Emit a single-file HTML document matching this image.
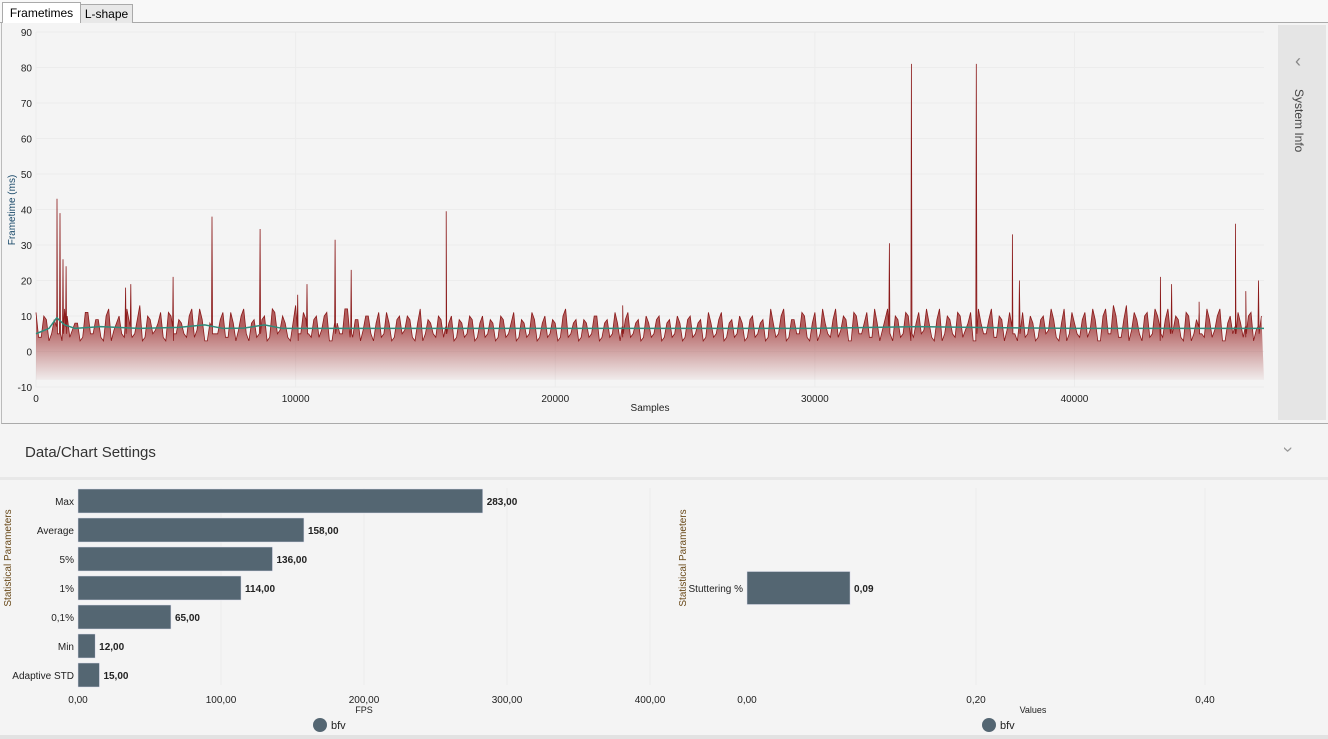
<!DOCTYPE html>
<html><head><meta charset="utf-8">
<style>
body{margin:0;width:1328px;height:739px;overflow:hidden;background:#f4f4f4;font-family:"Liberation Sans",sans-serif;position:relative}
.abs{position:absolute}
</style></head><body>
<div class="abs" style="left:0;top:0;width:1328px;height:22px;background:#f8f8f8;border-bottom:1px solid #aaa"></div>
<div class="abs" style="left:2px;top:2px;width:77px;height:21px;background:#fff;border:1px solid #aaa;border-bottom:none;font-size:12px;line-height:20px;text-align:center">Frametimes</div>
<div class="abs" style="left:80px;top:4px;width:51px;height:18px;background:#e8e8e8;border:1px solid #aaa;border-bottom:none;font-size:12px;line-height:18px;text-align:center">L-shape</div>
<div class="abs" style="left:1px;top:23px;width:1326px;height:400px;border-left:1px solid #bbb;border-right:1px solid #bbb;border-bottom:1px solid #aaa;background:#f4f4f4"></div>
<div class="abs" style="left:1278px;top:25px;width:48px;height:395px;background:#e5e5e5">
 <div style="position:absolute;left:17px;top:26px;color:#888;font-size:18px">&#8249;</div>
 <div style="position:absolute;left:28px;top:64px;transform-origin:0 0;transform:rotate(90deg);font-size:12px;color:#444;white-space:nowrap">System Info</div>
</div>
<svg class="abs" style="left:0;top:0" width="1278" height="424" id="ft">
<defs><linearGradient id="g" gradientUnits="userSpaceOnUse" x1="0" y1="326" x2="0" y2="382"><stop offset="0" stop-color="#a23a3a" stop-opacity="0.8"/><stop offset="1" stop-color="#a84848" stop-opacity="0.02"/></linearGradient></defs>
</svg>
<div class="abs" style="left:0;top:425px;width:1328px;height:52px;background:#f4f4f4;border-bottom:3px solid #e8e8e8">
 <div style="position:absolute;left:25px;top:19px;font-size:15px;color:#333">Data/Chart Settings</div>
 <div style="position:absolute;left:1285px;top:14px;color:#999;font-size:18px;transform:rotate(90deg)">&#8250;</div>
</div>
<svg class="abs" style="left:0;top:480px" width="1328" height="259" id="bc"></svg>
<div class="abs" style="left:0;top:735px;width:1328px;height:4px;background:#e2e2e2"></div>
<script>
const NS="http://www.w3.org/2000/svg";
// ---- frametime data ----
const yTicks=[90,80,70,60,50,40,30,20,10,0,-10];
const xTicks=[0,10000,20000,30000,40000];
const baseStep=200;
const baseValues=[11,4,9,5,12,3,10,6,8,4,11,5,9,3,12,6,10,4,8,5,13,4,9,6,11,3,10,5,8,4,12,6,9,3,10,5,11,4,8,6,12,3,9,5,10,4,11,6,8,3,13,5,9,4,10,6,11,3,8,5,12,4,9,6,10,3,11,5,8,4,10,6,9,3,12,5,8,4,9,5,10,4,8,5,9,4,10,5,8,4,9,5,11,4,8,5,9,4,10,5,8,4,12,5,9,4,8,5,10,4,9,5,8,4,11,5,9,4,8,5,10,4,9,5,8,4,10,5,9,4,8,5,11,4,9,5,8,4,10,5,9,4,8,5,12,4,9,5,10,3,11,5,8,4,12,6,9,3,10,5,11,4,8,6,12,3,9,5,10,4,11,6,8,3,12,5,9,4,10,6,11,3,8,5,12,4,9,6,10,3,11,5,8,4,10,6,9,3,12,5,8,4,11,6,9,3,12,5,10,4,13,6,9,3,11,5,10,4,12,6,9,3,10,5,11,4,9,6,12,3,10,5,8,4,11,6,10];
const baseValues2=[4,10,3,9,5,12,4,8,3,11,5,9,4,10,3,8,5,12,4,9,3,10,5,8,4,11,3,9,5,10,4,12,3,8,5,9,4,11,3,10,5,8,4,9,3,12,5,10,4,8,3,11,5,9,4,10,3,8,5,12,4,9,3,10,5,8,4,11,3,9,5,10,4,8,3,9,5,10,4,8,3,9,4,10,3,8,4,9,3,10,4,8,3,9,4,11,3,8,4,9,3,10,4,8,3,9,4,10,3,8,4,11,3,9,4,8,3,10,4,9,3,8,4,10,3,9,4,8,3,11,4,9,3,8,4,10,3,9,4,8,3,12,4,10,3,9,5,11,4,8,3,12,5,9,4,10,3,11,5,8,4,12,3,9,5,10,4,11,3,8,5,12,4,9,3,10,5,11,4,8,3,12,5,9,4,10,3,11,5,8,4,10,3,9,5,12,4,8,3,11,5,9,4,12,3,10,5,13,4,9,3,11,5,10,4,12,3,9,5,10,4,11,3,9,5,12,4,10,3,8,5,11,4,10,3];
const spikeSamples=[810,925,1040,1160,3450,3650,5280,6780,8630,10080,10440,11520,12140,15800,22600,32870,33720,36220,37610,37880,43310,43740,44800,46200,46600,47090];
const spikeValues=[43,39,26,24,18,19,21,38,34.5,16,19,31.5,23,39.5,13,30.5,81,81,33,20,21,19,14,36,17,20];
const meanSamples=[0,500,800,1100,1500,2500,4000,5500,6500,7200,8000,8800,9500,12000,20000,30000,34000,36000,40000,47300];
const meanValues=[5,6.5,9.5,7.5,6.5,7,6.5,6.8,7.5,6.5,6.6,7.5,6.5,6.5,6.5,6.5,7,6.8,6.5,6.5];
const X0=36,XS=1228/47300,Y0=351.5,YS=3.55;
const fx=s=>X0+s*XS, fy=v=>Y0-v*YS;
const ft=document.getElementById('ft');
function mk(p,tag,at){const e=document.createElementNS(NS,tag);for(const k in at)e.setAttribute(k,at[k]);p.appendChild(e);return e;}
yTicks.forEach(t=>{
 const l=mk(ft,'line',{x1:36,x2:1264,y1:fy(t),y2:fy(t),stroke:'#ececec'});
 
 
 const tx=mk(ft,'text',{x:32,y:fy(t)+4,'text-anchor':'end','font-size':10,fill:'#222'});tx.textContent=t;
 
 
});
xTicks.forEach(t=>{
 const l=mk(ft,'line',{x1:fx(t),x2:fx(t),y1:32,y2:387,stroke:'#ececec'});
 
 
 const tx=mk(ft,'text',{x:fx(t),y:402,'text-anchor':'middle','font-size':10,fill:'#222'});tx.textContent=t;
 
 
});
let pts=[];
baseValues.forEach((v,i)=>{const s=i*baseStep; if(s<=47300)pts.push([s,v]);});
baseValues2.forEach((v,i)=>{const s=i*baseStep+100; if(s<=47300)pts.push([s,v]);});
spikeSamples.forEach((s,i)=>{pts.push([s-20,7]);pts.push([s,spikeValues[i]]);pts.push([s+20,5]);});
pts.sort((a,b)=>a[0]-b[0]);
let d=pts.map((p,i)=>(i?'L':'M')+fx(p[0]).toFixed(1)+' '+fy(p[1]).toFixed(1)).join('');
const area=mk(ft,'path',{d:d+'L'+fx(47300)+' '+fy(-8)+'L'+fx(0)+' '+fy(-8)+'Z',fill:'url(#g)'});


const line=mk(ft,'path',{d:d,fill:'none',stroke:'#8b1a1a','stroke-width':0.8});


const md=meanSamples.map((s,i)=>(i?'L':'M')+fx(s)+' '+fy(meanValues[i])).join('');
const ml=mk(ft,'path',{d:md,fill:'none',stroke:'#2e8b7a','stroke-width':1.5});


const xt=mk(ft,'text',{x:650,y:411,'text-anchor':'middle','font-size':10,fill:'#222'});xt.textContent='Samples';


const yt=mk(ft,'text',{x:0,y:0,transform:'translate(15,210) rotate(-90)','text-anchor':'middle','font-size':10,fill:'#1a4a6a'});yt.textContent='Frametime (ms)';



// ---- bar charts ----
const fpsCategories=['Max','Average','5%','1%','0,1%','Min','Adaptive STD'];
const fpsValues=[283,158,136,114,65,12,15];
const fpsLabels=['283,00','158,00','136,00','114,00','65,00','12,00','15,00'];
const fpsTicks=[0,100,200,300,400];
const fpsTickLabels=['0,00','100,00','200,00','300,00','400,00'];
const stutCategories=['Stuttering %'];
const stutValues=[0.09];
const stutLabels=['0,09'];
const stutTicks=[0,0.2,0.4];
const stutTickLabels=['0,00','0,20','0,40'];
const bc=document.getElementById('bc');
const col='#546672';
function barChart(cats,vals,labs,ticks,tlabs,x0,scale,yc0,step,h,title,axTitle,axX,legX){
 const sx=v=>x0+v*scale;
 ticks.forEach((t,i)=>{
  if(i){const g=mk(bc,'line',{x1:sx(t),x2:sx(t),y1:8,y2:205,stroke:'#ececec'});
  
  }
  const tx=mk(bc,'text',{x:sx(t),y:223,'text-anchor':'middle','font-size':10,fill:'#222'});tx.textContent=tlabs[i];
  
  
 });
 cats.forEach((c,i)=>{
  const yc=yc0+i*step;
  const r=mk(bc,'rect',{x:x0,y:yc-h/2,width:vals[i]*scale,height:h,fill:col,stroke:'#dde',"stroke-width":0.5});
  
  
  const ct=mk(bc,'text',{x:x0-4,y:yc+4,'text-anchor':'end','font-size':10,fill:'#222'});ct.textContent=c;
  
  
  const vt=mk(bc,'text',{x:sx(vals[i])+4,y:yc+4,'font-size':10,'font-weight':'bold',fill:'#222'});vt.textContent=labs[i];
  
  
 });
 const yt=mk(bc,'text',{transform:'translate('+title+',78) rotate(-90)','text-anchor':'middle','font-size':10,fill:'#6a4a1a'});yt.textContent='Statistical Parameters';
 
 
 const at=mk(bc,'text',{x:axX,y:233,'text-anchor':'middle','font-size':9,fill:'#222'});at.textContent=axTitle;
 
 
 const lc=mk(bc,'circle',{cx:legX,cy:245,r:7,fill:col});
 
 
 const lt=mk(bc,'text',{x:legX+11,y:249,'font-size':11,fill:'#222'});lt.textContent='bfv';
 
 
}
barChart(fpsCategories,fpsValues,fpsLabels,fpsTicks,fpsTickLabels,78,1.43,21,29,24,11,'FPS',364,320);
barChart(stutCategories,stutValues,stutLabels,stutTicks,stutTickLabels,747,1145,108,29,33,686,'Values',1033,989);
</script>
</body></html>
